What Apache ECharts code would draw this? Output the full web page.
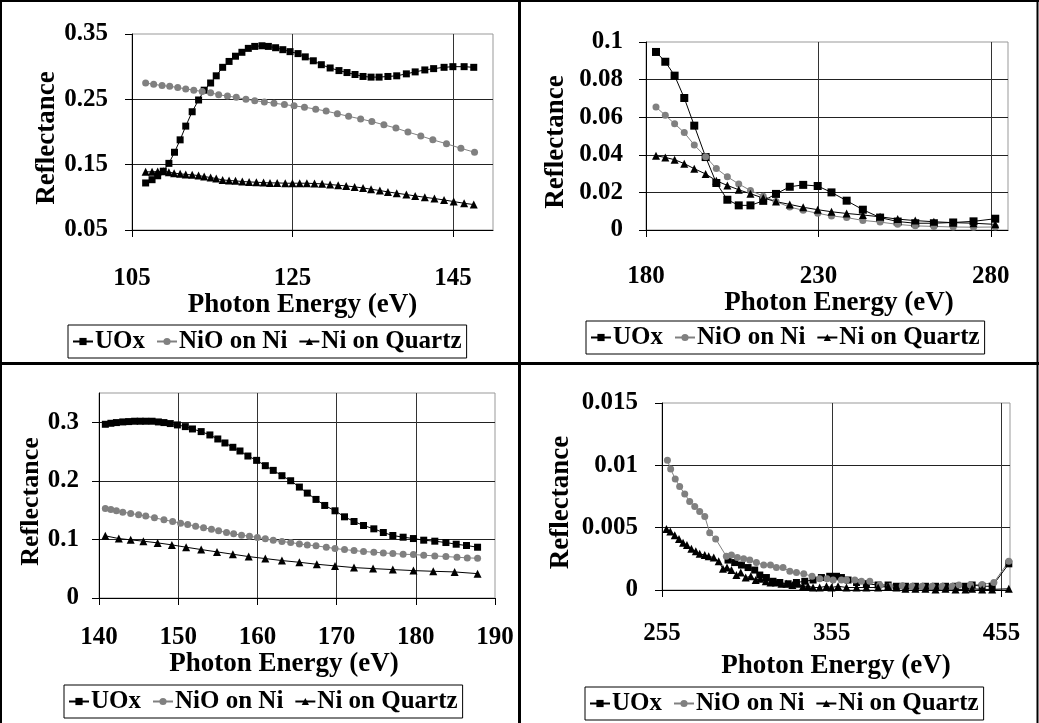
<!DOCTYPE html>
<html>
<head>
<meta charset="utf-8">
<script src="https://cdn.jsdelivr.net/npm/echarts@6/dist/echarts.min.js"></script>
<style>
html,body{margin:0;padding:0;background:#fff;}
#chart{width:1039px;height:723px;}
</style>
</head>
<body>
<div id="chart"></div>
<script>
// ---------- Panel 1 (105-150 eV) ----------
var p1UOxE = [106.7,107.5,108.2,108.9,109.6,110.3,111.0,111.7,112.5,113.3,114.0,114.8,115.5,116.3,117.1,117.9,118.7,119.5,120.3,121.2,122.0,122.9,123.8,124.7,125.7,126.6,127.6,128.6,129.7,130.8,131.8,132.8,133.8,134.8,135.8,136.9,138.0,139.2,140.3,141.5,142.6,143.9,145.0,146.4,147.6];
var p1UOxR = [0.122,0.127,0.133,0.140,0.152,0.169,0.188,0.209,0.231,0.249,0.264,0.275,0.286,0.299,0.308,0.316,0.322,0.328,0.331,0.332,0.331,0.329,0.326,0.323,0.320,0.315,0.309,0.303,0.298,0.294,0.291,0.288,0.285,0.284,0.284,0.285,0.286,0.289,0.292,0.295,0.297,0.299,0.300,0.300,0.299];
var p1NiOE = [106.7,107.7,108.75,109.7,110.7,111.7,112.7,113.75,114.8,115.8,116.9,118.0,119.2,120.3,121.5,122.7,124.0,125.2,126.5,127.9,129.2,130.6,132.0,133.5,134.9,136.4,137.9,139.4,141.0,142.5,144.2,146.0,147.7];
var p1NiOR = [0.275,0.273,0.271,0.270,0.268,0.266,0.264,0.262,0.260,0.257,0.255,0.253,0.250,0.248,0.246,0.244,0.242,0.240,0.238,0.235,0.232,0.228,0.224,0.220,0.216,0.211,0.206,0.200,0.194,0.188,0.182,0.175,0.169];
var p1QuE = [106.7,107.5,108.2,108.9,109.6,110.25,111.0,111.7,112.5,113.3,114.0,114.8,115.5,116.3,117.1,117.9,118.75,119.6,120.5,121.4,122.2,123.1,124.1,125.0,125.9,126.8,127.75,128.7,129.7,130.7,131.7,132.75,133.8,134.8,135.9,136.9,138.0,139.2,140.3,141.5,142.7,143.9,145.1,146.4,147.6];
var p1QuR = [0.139,0.139,0.1395,0.140,0.1385,0.137,0.136,0.135,0.1344,0.1333,0.1318,0.1303,0.1287,0.1267,0.1257,0.1252,0.1242,0.1236,0.1231,0.1226,0.1221,0.1221,0.1216,0.1216,0.1216,0.1216,0.1211,0.1206,0.1196,0.1185,0.1175,0.116,0.1144,0.1124,0.1104,0.1083,0.1063,0.1042,0.1022,0.1001,0.0981,0.096,0.0935,0.0909,0.0889];

// ---------- Panel 2 (180-285 eV) ----------
var p2E = [182.9,185.6,188.3,191.1,194.0,197.3,200.4,203.6,206.9,210.3,214.0,217.7,221.7,225.6,229.8,233.8,238.2,242.9,247.9,253.0,258.1,263.5,269.1,275.0,281.3];
var p2UOxR = [0.0947,0.0895,0.0821,0.0702,0.0555,0.0388,0.0250,0.0161,0.0131,0.0131,0.0155,0.0192,0.0230,0.0240,0.0234,0.0200,0.0156,0.0108,0.0066,0.0045,0.0036,0.0036,0.0040,0.0046,0.0060];
var p2NiOR = [0.0654,0.0610,0.0565,0.0518,0.0452,0.0390,0.0327,0.0283,0.0245,0.0210,0.0180,0.0151,0.0122,0.0105,0.0089,0.0075,0.0066,0.0051,0.0042,0.0030,0.0022,0.0019,0.0016,0.0015,0.0016];
var p2QuR = [0.0395,0.0386,0.0374,0.0353,0.0326,0.0298,0.0262,0.0237,0.0214,0.0193,0.0170,0.0151,0.0136,0.0121,0.0108,0.0097,0.0088,0.0080,0.0070,0.0058,0.0050,0.0044,0.0039,0.0036,0.0030];

// ---------- Panel 3 (140-190 eV) ----------
var p3UOxE = [140.8,141.5,142.2,143.0,143.75,144.5,145.2,145.9,146.7,147.5,148.2,149.0,149.9,150.9,151.8,152.9,154.0,155.0,155.9,156.9,157.8,158.8,159.9,161.0,162.0,163.1,164.2,165.3,166.3,167.4,168.5,169.8,171.0,172.2,173.4,174.7,175.9,177.1,178.4,179.7,181.0,182.4,183.8,185.1,186.4,187.8];
var p3UOxR = [0.2966,0.2983,0.2995,0.3006,0.3012,0.3018,0.3018,0.3018,0.3018,0.3006,0.2995,0.2978,0.2955,0.2926,0.2886,0.2841,0.2784,0.2715,0.2647,0.2573,0.2510,0.2424,0.2350,0.2259,0.2179,0.2088,0.2002,0.1894,0.1791,0.1683,0.1580,0.1489,0.1386,0.1306,0.1238,0.1181,0.1118,0.1067,0.1038,0.1015,0.0987,0.0970,0.0947,0.0918,0.0896,0.0867];
var p3NiOE = [140.8,141.5,142.2,143.0,144.0,145.0,145.9,147.0,148.2,149.3,150.3,151.2,152.2,153.2,154.2,155.1,156.1,157.0,158.0,159.0,160.0,161.0,162.0,163.1,164.2,165.3,166.3,167.4,168.7,169.8,171.0,172.2,173.4,174.7,175.9,177.1,178.4,179.7,181.0,182.4,183.8,185.2,186.5,187.8];
var p3NiOR = [0.1529,0.1512,0.1489,0.1466,0.1443,0.1420,0.1398,0.1369,0.1335,0.1306,0.1278,0.1255,0.1226,0.1198,0.1175,0.1147,0.1118,0.1095,0.1072,0.1055,0.1033,0.1010,0.0987,0.0964,0.0947,0.0924,0.0907,0.0890,0.0867,0.0844,0.0827,0.0810,0.0793,0.0782,0.0770,0.0759,0.0747,0.0742,0.0730,0.0719,0.0707,0.0696,0.0685,0.0679];
var p3QuE = [140.8,142.5,144.0,145.6,147.4,149.2,151.0,152.9,154.9,156.9,158.9,161.0,163.1,165.3,167.5,169.8,172.2,174.6,177.1,179.7,182.2,184.9,187.8];
var p3QuR = [0.1061,0.1015,0.0993,0.0970,0.0941,0.0907,0.0867,0.0827,0.0787,0.0747,0.0707,0.0673,0.0639,0.0610,0.0576,0.0548,0.0519,0.0502,0.0485,0.0468,0.0456,0.0445,0.0416];

// ---------- Panel 4 (255-460 eV) ----------
var p4UOxE = [293.9,297.8,301.8,305.7,309.6,312.6,316.5,320.4,324.4,329.3,334.2,339.1,344.0,348.9,353.8,357.8,360.7,364.6,369.6,375.4,382.3,388.2,393.1,398.4,404.3,410.2,416.1,422.0,427.9,433.8,437.7,443.6,449.5,459.3];
var p4UOxR = [0.0024,0.0022,0.0020,0.0018,0.0016,0.0012,0.0010,0.0007,0.0006,0.0005,0.0006,0.0007,0.0008,0.0010,0.0011,0.0011,0.0010,0.0008,0.0006,0.0005,0.0004,0.0004,0.0003,0.0003,0.0003,0.0003,0.0003,0.0003,0.0003,0.0003,0.0004,0.0003,0.0003,0.0021];
var p4NiOE = [258.2,260.1,262.8,265.4,268.4,271.3,274.3,277.2,280.2,283.1,286.6,292.9,295.9,299.4,303.1,306.7,310.6,314.9,318.9,322.4,326.3,330.3,334.2,338.5,343.4,347.9,352.2,355.8,360.7,363.7,368.6,372.5,377.4,383.3,389.2,396.5,402.3,408.2,414.1,420.0,425.9,429.9,436.7,443.6,450.5,459.3];
var p4NiOR = [0.0104,0.0097,0.0089,0.0083,0.0077,0.0071,0.0067,0.0063,0.0059,0.0046,0.0041,0.0027,0.0028,0.0026,0.0025,0.0024,0.0022,0.0020,0.0020,0.0018,0.0018,0.0015,0.0014,0.0013,0.0011,0.0009,0.0009,0.0008,0.0008,0.0008,0.0008,0.0007,0.0007,0.0004,0.0003,0.00035,0.0003,0.0003,0.0003,0.0003,0.0003,0.0004,0.0004,0.00045,0.0006,0.0023];
var p4QuE = [257.6,259.9,262.5,265.0,267.4,269.7,272.3,274.9,277.2,280.2,282.5,285.5,288.4,290.9,293.3,295.9,298.8,301.4,304.3,307.3,310.2,313.0,316.1,318.9,322.0,325.4,328.3,331.8,335.1,338.1,341.0,344.0,347.9,351.9,354.8,358.7,363.7,369.6,375.4,382.3,388.2,393.1,398.4,404.3,410.2,416.1,422.0,427.9,433.8,437.7,443.6,449.5,459.3];
var p4QuR = [0.0049,0.0047,0.0044,0.0041,0.0038,0.0036,0.0033,0.0031,0.0029,0.0028,0.0027,0.0026,0.0023,0.0017,0.0018,0.0016,0.0012,0.0014,0.0010,0.0011,0.0008,0.0009,0.0007,0.0006,0.0006,0.0005,0.0005,0.0004,0.0005,0.0003,0.0003,0.0002,0.0002,0.0003,0.0002,0.0003,0.0002,0.0002,0.0002,0.0002,0.0003,0.0002,0.0001,0.0001,0.0001,0.00005,0.0001,0.00005,0.00005,0.0001,0.00005,0.00005,0.0001];

var seriesNames = ['UOx', 'NiO on Ni', 'Ni on Quartz'];
var xTitle = 'Photon Energy (eV)';
var yTitle = 'Reflectance';

var FONT = "'Liberation Serif', 'Times New Roman', serif";

function zip(xs, ys) { return xs.map(function (x, i) { return [x, ys[i]]; }); }

var styleOf = {
  'UOx': { symbol: 'rect', color: '#000000' },
  'NiO on Ni': { symbol: 'circle', color: '#808080' },
  'Ni on Quartz': { symbol: 'triangle', color: '#000000' }
};

function mkSeries(name, xs, ys, gi, size) {
  var s = styleOf[name];
  return {
    type: 'line', name: name, xAxisIndex: gi, yAxisIndex: gi,
    data: zip(xs, ys), symbol: s.symbol, symbolSize: size, showSymbol: true,
    lineStyle: { color: s.color, width: 1 },
    itemStyle: { color: s.color, borderWidth: 0 },
    animation: false, silent: true
  };
}

var grids = [
  { left: 132, top: 34, width: 361, height: 196 },
  { left: 646, top: 42, width: 362, height: 188 },
  { left: 99, top: 393, width: 396, height: 205 },
  { left: 662, top: 403, width: 348, height: 187 }
].map(function (g) {
  g.show = true; g.borderColor = '#999'; g.borderWidth = 1; g.backgroundColor = 'transparent'; return g;
});

var xSpec = [
  { min: 105, max: 150, interval: 20, margin: 36, gap: 58, pad: [0, 20, 0, 0], showMax: false },
  { min: 180, max: 285, interval: 50, margin: 34, gap: 57, pad: [0, 0, 0, 24], showMax: false },
  { min: 140, max: 190, interval: 10, margin: 27, gap: 49, pad: [0, 26, 0, 0], showMax: true },
  { min: 255, max: 460, interval: 100, margin: 31, gap: 63, pad: [0, 0, 0, 0], showMax: false }
];
var ySpec = [
  { min: 0.05, max: 0.35, interval: 0.1, margin: 24, gap: 70, showMax: true, fs: 27 },
  { min: 0, max: 0.1, interval: 0.02, margin: 23, gap: 76, showMax: true, fs: 27 },
  { min: 0, max: 0.35, interval: 0.1, margin: 20, gap: 50, showMax: false, fs: 26 },
  { min: 0, max: 0.015, interval: 0.005, margin: 24, gap: 87, showMax: true, fs: 27 }
];

var xAxes = xSpec.map(function (s, i) {
  return {
    type: 'value', gridIndex: i, min: s.min, max: s.max, interval: s.interval,
    axisLine: { show: true, onZero: false, lineStyle: { color: '#000', width: 1 } },
    axisTick: { show: true, inside: false, length: 7, lineStyle: { color: '#000' } },
    axisLabel: { show: true, margin: s.margin, color: '#000', fontFamily: FONT, fontWeight: 'bold', fontSize: 25, showMaxLabel: s.showMax, showMinLabel: true },
    splitLine: { show: true, showMaxLine: false, showMinLine: false, lineStyle: { color: '#333', width: 1 } },
    name: xTitle, nameLocation: 'middle', nameGap: s.gap,
    nameTextStyle: { color: '#000', fontFamily: FONT, fontWeight: 'bold', fontSize: 27, padding: s.pad }
  };
});
var yAxes = ySpec.map(function (s, i) {
  return {
    type: 'value', gridIndex: i, min: s.min, max: s.max, interval: s.interval,
    axisLine: { show: true, onZero: false, lineStyle: { color: '#000', width: 1 } },
    axisTick: { show: true, inside: false, length: 7, lineStyle: { color: '#000' } },
    axisLabel: { show: true, margin: s.margin, color: '#000', fontFamily: FONT, fontWeight: 'bold', fontSize: 25, showMaxLabel: s.showMax, showMinLabel: true },
    splitLine: { show: true, showMaxLine: false, showMinLine: false, lineStyle: { color: '#222', width: 1 } },
    name: yTitle, nameLocation: 'middle', nameGap: s.gap, nameRotate: 90,
    nameTextStyle: { color: '#000', fontFamily: FONT, fontWeight: 'bold', fontSize: s.fs, padding: [0, 12, 0, 0] }
  };
});

var series = [
  mkSeries('UOx', p1UOxE, p1UOxR, 0, 7),
  mkSeries('NiO on Ni', p1NiOE, p1NiOR, 0, 7),
  mkSeries('Ni on Quartz', p1QuE, p1QuR, 0, 8),
  mkSeries('UOx', p2E, p2UOxR, 1, 8),
  mkSeries('NiO on Ni', p2E, p2NiOR, 1, 7),
  mkSeries('Ni on Quartz', p2E, p2QuR, 1, 8),
  mkSeries('UOx', p3UOxE, p3UOxR, 2, 7),
  mkSeries('NiO on Ni', p3NiOE, p3NiOR, 2, 7),
  mkSeries('Ni on Quartz', p3QuE, p3QuR, 2, 8),
  mkSeries('UOx', p4UOxE, p4UOxR, 3, 7),
  mkSeries('NiO on Ni', p4NiOE, p4NiOR, 3, 7),
  mkSeries('Ni on Quartz', p4QuE, p4QuR, 3, 8)
];

var legendPos = [[68, 325], [586, 321], [64, 685], [585, 687]];
var legends = legendPos.map(function (p) {
  return {
    left: p[0], top: p[1], orient: 'horizontal', data: seriesNames,
    itemWidth: 20, itemHeight: 9, itemGap: 11,
    borderColor: '#000', borderWidth: 1, backgroundColor: '#fff', padding: [4, 5, 4, 4],
    selectedMode: false,
    textStyle: { color: '#000', fontFamily: FONT, fontWeight: 'bold', fontSize: 25, padding: [0, 0, 0, -3] }
  };
});

var borders = [
  { type: 'line', shape: { x1: 0, y1: 1, x2: 1039, y2: 1 }, style: { stroke: '#000', lineWidth: 2 }, z: 100 },
  { type: 'line', shape: { x1: 1, y1: 0, x2: 1, y2: 723 }, style: { stroke: '#000', lineWidth: 2 }, z: 100 },
  { type: 'line', shape: { x1: 1037.5, y1: 0, x2: 1037.5, y2: 723 }, style: { stroke: '#000', lineWidth: 2 }, z: 100 },
  { type: 'line', shape: { x1: 519.5, y1: 0, x2: 519.5, y2: 723 }, style: { stroke: '#000', lineWidth: 3 }, z: 100 },
  { type: 'line', shape: { x1: 0, y1: 363.5, x2: 1039, y2: 363.5 }, style: { stroke: '#000', lineWidth: 3 }, z: 100 }
];

var chart = echarts.init(document.getElementById('chart'), null, { renderer: 'canvas' });
chart.setOption({
  backgroundColor: '#fff',
  animation: false,
  grid: grids,
  xAxis: xAxes,
  yAxis: yAxes,
  legend: legends,
  series: series,
  graphic: borders
});
</script>
</body>
</html>
